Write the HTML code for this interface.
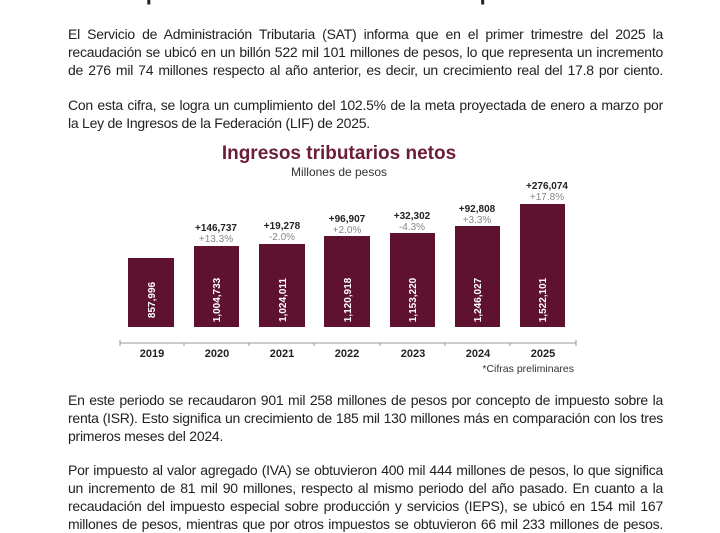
<!DOCTYPE html>
<html><head><meta charset="utf-8"><style>
body{margin:0;width:720px;height:530px;background:#fff;overflow:hidden;position:relative;font-family:"Liberation Sans",sans-serif;color:#222}
.t{position:absolute;left:0;width:720px;text-align:center;font-weight:bold;font-size:22px;top:-20px;color:#222}
.l{position:absolute;left:68px;width:595px;font-size:14px;letter-spacing:-0.25px;white-space:nowrap;text-align:justify;text-align-last:justify;line-height:18px}
.ll{text-align-last:left}
</style></head><body>
<div class="t">SAT supera meta de recaudación en el primer trimestre</div>
<div class="l" style="top:25px">El Servicio de Administración Tributaria (SAT) informa que en el primer trimestre del 2025 la</div>
<div class="l" style="top:43px">recaudación se ubicó en un billón 522 mil 101 millones de pesos, lo que representa un incremento</div>
<div class="l" style="top:61px">de 276 mil 74 millones respecto al año anterior, es decir, un crecimiento real del 17.8 por ciento.</div>
<div class="l" style="top:96px">Con esta cifra, se logra un cumplimiento del 102.5% de la meta proyectada de enero a marzo por</div>
<div class="l ll" style="top:114px">la Ley de Ingresos de la Federación (LIF) de 2025.</div>
<svg style="position:absolute;left:0;top:0" width="720" height="530">
<text x="339" y="159" text-anchor="middle" font-size="19" font-weight="bold" fill="#6b1d3a" font-family="Liberation Sans">Ingresos tributarios netos</text>
<text x="339" y="176" text-anchor="middle" font-size="12" fill="#333" font-family="Liberation Sans">Millones de pesos</text>
<g fill="#5e1230">
<rect x="128" y="258" width="46" height="69"/>
<rect x="194" y="246" width="45" height="81"/>
<rect x="259" y="244" width="46" height="83"/>
<rect x="324" y="236" width="46" height="91"/>
<rect x="390" y="233" width="45" height="94"/>
<rect x="455" y="226" width="45" height="101"/>
<rect x="520" y="204" width="45" height="123"/>
</g>
<g fill="#fff" font-size="10" font-weight="bold" font-family="Liberation Sans" text-anchor="middle">
<text transform="translate(155,300) rotate(-90)">857,996</text>
<text transform="translate(220,300) rotate(-90)">1,004,733</text>
<text transform="translate(286,300) rotate(-90)">1,024,011</text>
<text transform="translate(351,300) rotate(-90)">1,120,918</text>
<text transform="translate(416,300) rotate(-90)">1,153,220</text>
<text transform="translate(481,300) rotate(-90)">1,246,027</text>
<text transform="translate(546,300) rotate(-90)">1,522,101</text>
</g>
<g font-size="10" font-weight="bold" fill="#222" font-family="Liberation Sans" text-anchor="middle">
<text x="216" y="231">+146,737</text>
<text x="282" y="229">+19,278</text>
<text x="347" y="222">+96,907</text>
<text x="412" y="219">+32,302</text>
<text x="477" y="212">+92,808</text>
<text x="547" y="189">+276,074</text>
</g>
<g font-size="10" fill="#888" font-family="Liberation Sans" text-anchor="middle">
<text x="216" y="242">+13.3%</text>
<text x="282" y="240">-2.0%</text>
<text x="347" y="233">+2.0%</text>
<text x="412" y="230">-4.3%</text>
<text x="477" y="223">+3.3%</text>
<text x="547" y="200">+17.8%</text>
</g>
<line x1="120" y1="343" x2="576" y2="343" stroke="#999" stroke-width="1"/>
<g stroke="#999"><line x1="120" y1="340" x2="120" y2="346"/><line x1="184" y1="343" x2="184" y2="346"/><line x1="249" y1="343" x2="249" y2="346"/><line x1="314" y1="343" x2="314" y2="346"/><line x1="380" y1="343" x2="380" y2="346"/><line x1="445" y1="343" x2="445" y2="346"/><line x1="510" y1="343" x2="510" y2="346"/><line x1="576" y1="340" x2="576" y2="346"/></g>
<g font-size="11" font-weight="bold" fill="#222" font-family="Liberation Sans" text-anchor="middle">
<text x="152" y="357">2019</text><text x="217" y="357">2020</text><text x="282" y="357">2021</text><text x="347" y="357">2022</text><text x="413" y="357">2023</text><text x="478" y="357">2024</text><text x="543" y="357">2025</text>
</g>
<text x="574" y="372" text-anchor="end" font-size="10.5" fill="#333" font-family="Liberation Sans">*Cifras preliminares</text>
</svg>
<div class="l" style="top:391px">En este periodo se recaudaron 901 mil 258 millones de pesos por concepto de impuesto sobre la</div>
<div class="l" style="top:409px">renta (ISR). Esto significa un crecimiento de 185 mil 130 millones más en comparación con los tres</div>
<div class="l ll" style="top:427px">primeros meses del 2024.</div>
<div class="l" style="top:461px">Por impuesto al valor agregado (IVA) se obtuvieron 400 mil 444 millones de pesos, lo que significa</div>
<div class="l" style="top:479px">un incremento de 81 mil 90 millones, respecto al mismo periodo del año pasado. En cuanto a la</div>
<div class="l" style="top:497px">recaudación del impuesto especial sobre producción y servicios (IEPS), se ubicó en 154 mil 167</div>
<div class="l" style="top:515px">millones de pesos, mientras que por otros impuestos se obtuvieron 66 mil 233 millones de pesos.</div>
</body></html>
